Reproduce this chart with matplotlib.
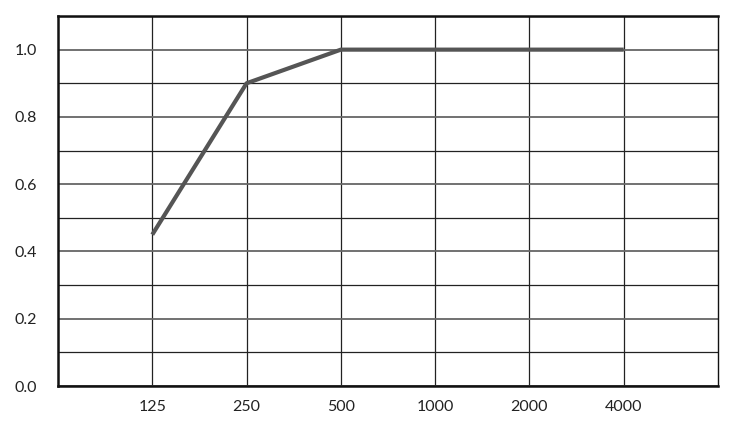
import numpy as np
import matplotlib.pyplot as plt

# Data
freqs = ['125', '250', '500', '1000', '2000', '4000']
alpha = [0.45, 0.90, 1.00, 1.00, 1.00, 1.00]
y_ticks = [0.0, 0.2, 0.4, 0.6, 0.8, 1.0]
y_minor = [0.1, 0.3, 0.5, 0.7, 0.9, 1.1]

plt.rcParams['font.family'] = ['Lato', 'DejaVu Sans']

fig = plt.figure(figsize=(7.5, 4.21), dpi=100)
ax = fig.add_axes([58 / 750, 1 - 386 / 421, 660 / 750, 370 / 421])

x = np.arange(1, len(freqs) + 1)
ax.plot(x, alpha, color='#555555', linewidth=3, solid_capstyle='butt', zorder=3)

ax.set_xlim(0, 7)
ax.set_ylim(0, 1.1)
ax.set_xticks(x)
ax.set_xticklabels(freqs)
ax.set_yticks(y_ticks)
ax.set_yticklabels([f'{v:.1f}' for v in y_ticks])
ax.set_yticks(y_minor, minor=True)

ax.grid(True, which='major', axis='y', color='#666666', linewidth=1.3)
ax.grid(True, which='minor', axis='y', color='#222222', linewidth=0.9)
ax.grid(True, which='major', axis='x', color='#222222', linewidth=0.9)

ax.tick_params(which='both', length=0, labelsize=11.5, colors='#222222')
ax.tick_params(axis='y', pad=15)
ax.tick_params(axis='x', pad=10)

for side in ['left', 'bottom', 'top']:
    ax.spines[side].set_linewidth(1.8)
ax.spines['right'].set_linewidth(1.0)
for s in ax.spines.values():
    s.set_color('#111111')

fig.savefig('out.png', dpi=100)
